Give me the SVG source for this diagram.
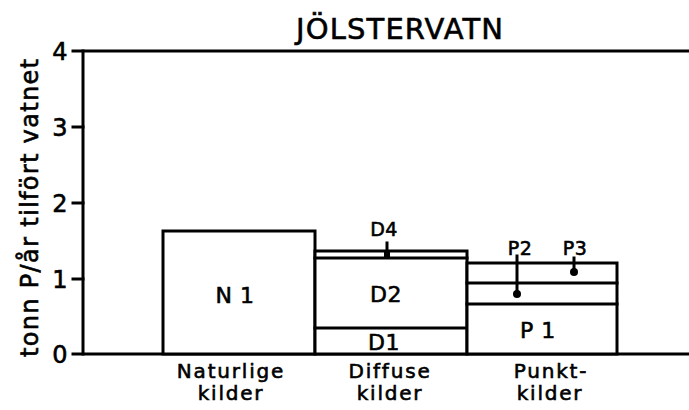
<svg xmlns="http://www.w3.org/2000/svg" width="689" height="410" viewBox="0 0 689 410">
<style>
.ln{stroke:#000;stroke-width:3;fill:none;stroke-linecap:square}
.bx{stroke:#000;stroke-width:3;fill:#fff}
.t{font-family:"DejaVu Sans","Liberation Sans",sans-serif;fill:#000;stroke:#000;stroke-width:0.6px}
.lab{font-size:20px;letter-spacing:1.8px;text-anchor:middle}
.in{font-size:22px;letter-spacing:0.5px;text-anchor:middle}
.sm{font-size:19px;letter-spacing:0.5px;text-anchor:middle}
.tk{font-size:24px;text-anchor:middle}
</style>
<rect width="689" height="410" fill="#fff"/>
<text class="t" x="296" y="39" font-size="29" textLength="207" lengthAdjust="spacing">JÖLSTERVATN</text>
<text class="t" transform="translate(38,208) rotate(-90)" font-size="24" text-anchor="middle" textLength="298" lengthAdjust="spacing">tonn P/år tilfört vatnet</text>
<g id="axes">
<line class="ln" x1="73" y1="51" x2="689" y2="51"/>
<line class="ln" x1="83" y1="51" x2="83" y2="354"/>
<line class="ln" x1="73" y1="354" x2="689" y2="354"/>
<line class="ln" x1="73" y1="127" x2="83" y2="127"/>
<line class="ln" x1="73" y1="203" x2="83" y2="203"/>
<line class="ln" x1="73" y1="279" x2="83" y2="279"/>
<text class="t tk" x="60" y="60">4</text>
<text class="t tk" x="60" y="136">3</text>
<text class="t tk" x="60" y="212">2</text>
<text class="t tk" x="60" y="288">1</text>
<text class="t tk" x="60" y="363">0</text>
</g>
<g id="N1">
<rect class="bx" x="163" y="231" width="152" height="123"/>
<text class="t in" x="235" y="303">N 1</text>
<text class="t lab" x="231" y="378">Naturlige</text>
<text class="t lab" x="231" y="400">kilder</text>
</g>
<g id="D">
<rect class="bx" x="315" y="251" width="152" height="103"/>
<line class="ln" x1="315" y1="258" x2="467" y2="258"/>
<line class="ln" x1="315" y1="328" x2="467" y2="328"/>
<text class="t in" x="386" y="302">D2</text>
<text class="t in" x="384" y="350">D1</text>
<text class="t sm" x="384" y="236">D4</text>
<line class="ln" x1="387" y1="243" x2="387" y2="257"/>
<rect x="384" y="252" width="6" height="6" fill="#000"/>
<text class="t lab" x="390" y="378">Diffuse</text>
<text class="t lab" x="390" y="400">kilder</text>
</g>
<g id="P">
<rect class="bx" x="467" y="263" width="150" height="91"/>
<line class="ln" x1="467" y1="283" x2="617" y2="283"/>
<line class="ln" x1="467" y1="304" x2="617" y2="304"/>
<text class="t in" x="538" y="338">P 1</text>
<text class="t sm" x="520" y="255">P2</text>
<text class="t sm" x="575" y="255">P3</text>
<line class="ln" x1="517" y1="256" x2="517" y2="293"/>
<circle cx="517" cy="294" r="4" fill="#000"/>
<line class="ln" x1="574" y1="258" x2="574" y2="271"/>
<circle cx="574" cy="272" r="4" fill="#000"/>
<text class="t lab" x="551" y="378">Punkt-</text>
<text class="t lab" x="550" y="400">kilder</text>
</g>
</svg>
